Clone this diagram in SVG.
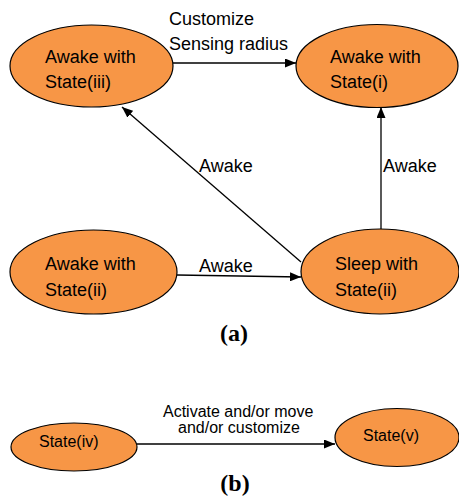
<svg xmlns="http://www.w3.org/2000/svg" width="459" height="497" viewBox="0 0 459 497">
<style>
.node{fill:#F79646;stroke:#000;stroke-width:1.2}
.t{font-family:"Liberation Sans",Arial,sans-serif;font-size:18px;fill:#000}
.s{font-family:"Liberation Sans",Arial,sans-serif;font-size:16px;fill:#000}
.cap{font-family:"Liberation Serif","Times New Roman",serif;font-size:24px;font-weight:bold;fill:#000;text-anchor:middle}
.e{stroke:#000;stroke-width:1.3;fill:none;marker-end:url(#ah)}
</style>
<defs>
<marker id="ah" markerUnits="userSpaceOnUse" markerWidth="11" markerHeight="9" refX="11" refY="4.5" orient="auto">
<path d="M0,0 L11,4.5 L0,9 z" fill="#000"/>
</marker>
</defs>
<rect width="459" height="497" fill="#fff"/>
<g id="connectors">
<line class="e" x1="173" y1="63" x2="296" y2="63"/>
<line class="e" x1="301" y1="262" x2="122" y2="107"/>
<line class="e" x1="381" y1="229" x2="381" y2="107"/>
<line class="e" x1="177" y1="275" x2="301" y2="277"/>
<line class="e" x1="137" y1="444" x2="335" y2="444"/>
<text class="t" x="169" y="25">Customize</text>
<text class="t" x="169" y="50">Sensing radius</text>
<text class="t" x="199" y="172">Awake</text>
<text class="t" x="383" y="172">Awake</text>
<text class="t" x="199" y="272">Awake</text>
<text class="s" x="163" y="417">Activate and/or move</text>
<text class="s" x="178" y="433">and/or customize</text>
</g>
<g id="n-iii">
<ellipse class="node" cx="91.5" cy="66" rx="81.5" ry="41"/>
<text class="t" x="45" y="63">Awake with</text>
<text class="t" x="45" y="88">State(iii)</text>
</g>
<g id="n-i">
<ellipse class="node" cx="377" cy="66" rx="81" ry="41.5"/>
<text class="t" x="330" y="63">Awake with</text>
<text class="t" x="330" y="88">State(i)</text>
</g>
<g id="n-ii-awake">
<ellipse class="node" cx="93.5" cy="272" rx="83.5" ry="42"/>
<text class="t" x="45" y="270">Awake with</text>
<text class="t" x="45" y="296">State(ii)</text>
</g>
<g id="n-ii-sleep">
<ellipse class="node" cx="380" cy="271.5" rx="79" ry="42.5"/>
<text class="t" x="335" y="270">Sleep with</text>
<text class="t" x="335" y="296">State(ii)</text>
</g>
<g id="n-iv">
<ellipse class="node" cx="74" cy="447" rx="63" ry="24"/>
<text class="s" x="39" y="447">State(iv)</text>
</g>
<g id="n-v">
<ellipse class="node" cx="397" cy="437.5" rx="62" ry="29"/>
<text class="s" x="363" y="441">State(v)</text>
</g>
<text class="cap" x="234" y="341">(a)</text>
<text class="cap" x="235" y="491">(b)</text>
</svg>
